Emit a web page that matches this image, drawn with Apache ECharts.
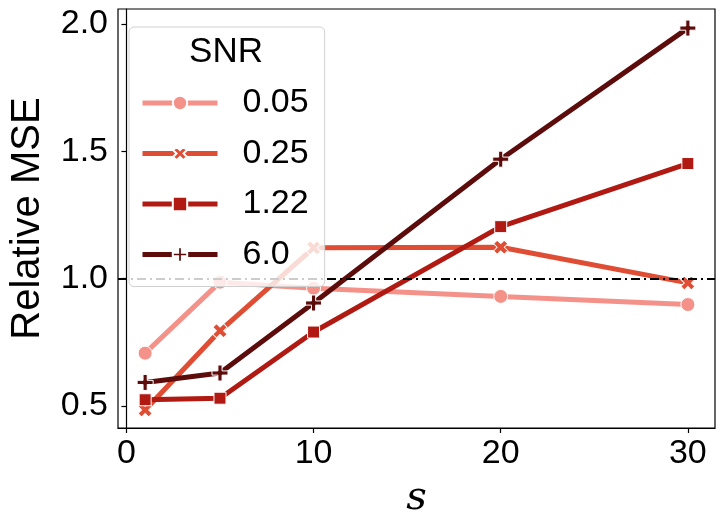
<!DOCTYPE html>
<html>
<head>
<meta charset="utf-8">
<script src="https://cdn.jsdelivr.net/npm/echarts@6/dist/echarts.min.js"></script>
<style>
  html, body { margin: 0; padding: 0; background: #fff; }
  #main { width: 724px; height: 524px; }
</style>
</head>
<body>
<div id="main"></div>
<script>
// s values on the x axis
var sValues = [1, 5, 10, 20, 30];
// relative MSE per SNR level
var snrNames = ['0.05', '0.25', '1.22', '6.0'];
var snr005 = [0.707, 0.986, 0.962, 0.930, 0.898];
var snr025 = [0.484, 0.795, 1.121, 1.123, 0.983];
var snr122 = [0.524, 0.530, 0.790, 1.204, 1.452];
var snr60  = [0.592, 0.629, 0.904, 1.469, 1.984];
var xTicks = [0, 10, 20, 30];
var yTicks = [0.5, 1.0, 1.5, 2.0];
var refLine = 1.0;

var colors = ['#f4928a', '#df4d34', '#b01a12', '#5c0c0b'];
var plusPath = 'path://M3.7,0H6.3V3.7H10V6.3H6.3V10H3.7V6.3H0V3.7H3.7Z';
var xPath = 'path://M3.3,0H6.7V3.3H10V6.7H6.7V10H3.3V6.7H0V3.3H3.3Z';
var symbols = ['circle', xPath, 'rect', plusPath];
var symbolSizes = [14, 15, 12, 16];
var symbolRotates = [0, 45, 0, 0];
var allValues = [snr005, snr025, snr122, snr60];

var font = "'Liberation Sans', Arial, sans-serif";

function pairs(vals) {
  return sValues.map(function (s, i) { return [s, vals[i]]; });
}

var series = allValues.map(function (vals, k) {
  return {
    name: snrNames[k],
    type: 'line',
    data: pairs(vals),
    symbol: symbols[k],
    symbolSize: symbolSizes[k],
    symbolRotate: symbolRotates[k],
    symbolKeepAspect: true,
    showAllSymbol: true,
    z: 2 + k,
    lineStyle: { color: colors[k], width: 5 },
    itemStyle: { color: colors[k], borderColor: '#fff', borderWidth: 1, opacity: 1 },
    emphasis: { disabled: true }
  };
});

series[0].markLine = {
  silent: true,
  symbol: 'none',
  label: { show: false },
  lineStyle: { color: '#000', width: 2, type: [9, 4, 2, 4] },
  data: [{ yAxis: refLine }],
  z: 10
};

var myChart = echarts.init(document.getElementById('main'));
var option = {
  animation: false,
  backgroundColor: '#fff',
  grid: {
    left: 111, top: 9, width: 604, height: 419,
    show: true, borderColor: '#000', borderWidth: 1.2, backgroundColor: 'transparent'
  },
  title: {
    text: 'SNR',
    left: 226, top: 35,
    textAlign: 'center',
    padding: 0,
    textStyle: { fontFamily: font, fontSize: 35, fontWeight: 'normal', color: '#000' },
    z: 20
  },
  legend: {
    orient: 'vertical',
    left: 129, top: 27,
    padding: [58, 16, 14, 11],
    itemWidth: 75,
    itemHeight: 18,
    itemGap: 14.5,
    backgroundColor: 'rgba(255,255,255,0.8)',
    borderColor: '#d0d0d0',
    borderWidth: 1,
    borderRadius: 5,
    selectedMode: false,
    z: 15,
    lineStyle: { width: 5 },
    textStyle: {
      fontFamily: font, fontSize: 34, color: '#000',
      lineHeight: 36, padding: [0, 0, 0, 20]
    },
    data: snrNames
  },
  xAxis: {
    type: 'value',
    min: -0.45, max: 31.45,
    name: 's',
    nameLocation: 'middle',
    nameGap: 51,
    nameTextStyle: { fontFamily: "'DejaVu Serif', serif", fontStyle: 'italic', fontSize: 40, color: '#000' },
    splitLine: { show: false },
    axisLine: { show: true, lineStyle: { color: '#000', width: 1.2 } },
    axisTick: { show: true, length: 5, lineStyle: { color: '#000', width: 1.2 }, customValues: xTicks },
    axisLabel: { fontFamily: font, fontSize: 34, color: '#000', margin: 9, customValues: xTicks }
  },
  yAxis: {
    type: 'value',
    min: 0.413, max: 2.059,
    name: 'Relative MSE',
    nameLocation: 'middle',
    nameRotate: 90,
    nameGap: 70,
    nameTextStyle: { fontFamily: font, fontSize: 40, color: '#000' },
    splitLine: { show: false },
    axisLine: { show: true, lineStyle: { color: '#000', width: 1.2 } },
    axisTick: { show: true, length: 5, lineStyle: { color: '#000', width: 1.2 }, customValues: yTicks },
    axisLabel: {
      fontFamily: font, fontSize: 34, color: '#000', margin: 10, customValues: yTicks,
      formatter: function (v) { return v.toFixed(1); }
    }
  },
  series: series
};
myChart.setOption(option);
</script>
</body>
</html>
